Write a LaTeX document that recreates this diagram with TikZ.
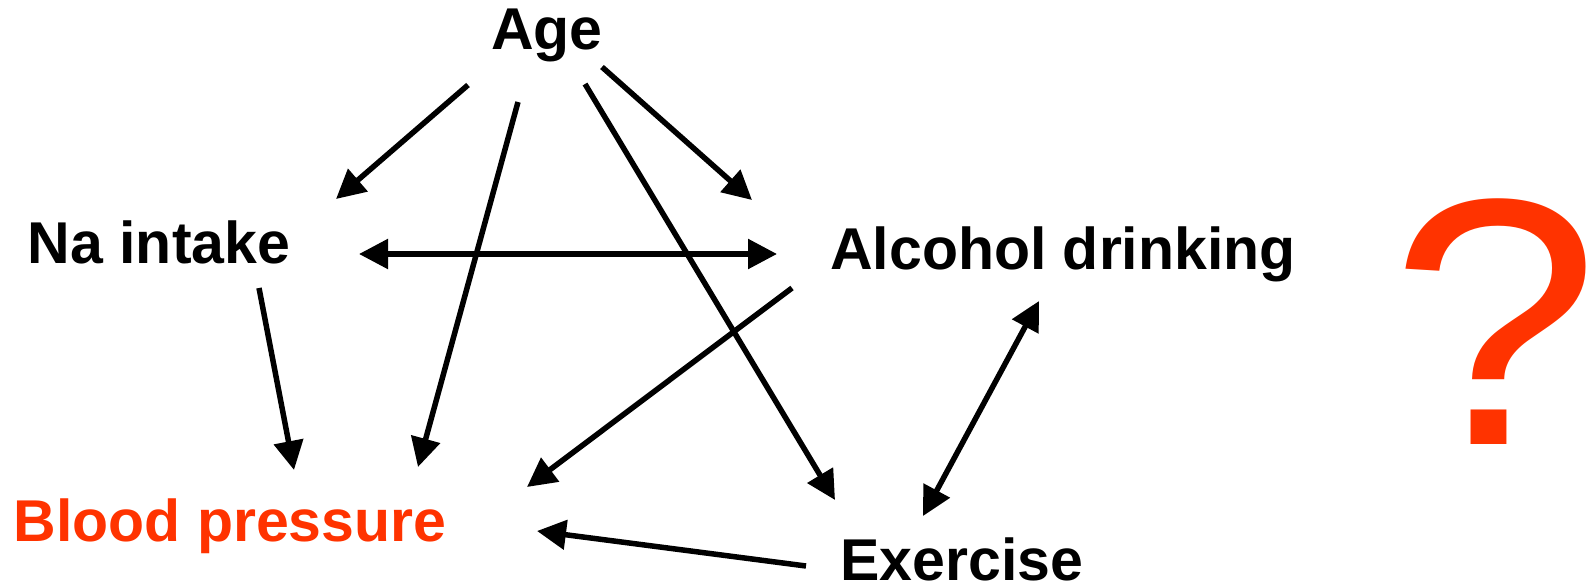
\documentclass[tikz,border=0pt]{standalone}
\usepackage{fontspec}
\setmainfont{Liberation Sans}
\usetikzlibrary{arrows.meta}
\definecolor{bpred}{RGB}{255,51,0}
\begin{document}
\begin{tikzpicture}[x=1pt,y=-1pt,
  label/.style={inner sep=0pt,anchor=base,font=\fontsize{59}{70}\selectfont\bfseries},
  link/.style={line width=5.5pt,-{Triangle[length=29pt,width=29pt]}},
  bilink/.style={line width=5.5pt,{Triangle[length=29pt,width=29pt]}-{Triangle[length=29pt,width=29pt]}}]
\useasboundingbox (0,0) rectangle (1595,588);

% variables
\node[label] (age) at (547,50) {Age};
\node[label] (na)  at (159,263) {Na intake};
\node[label] (alc) at (1063,269) {Alcohol drinking};
\node[label,text=bpred] (bp) at (230,541) {Blood pressure};
\node[label] (ex)  at (962,580) {Exercise};
\node[inner sep=0pt,anchor=base,text=bpred,font=\fontsize{352}{352}\selectfont] (q) at (1495,444) {\scalebox{1.07}[1]{?}};

% arrow end points
\coordinate (age-na)  at (468,85);   \coordinate (na-top)   at (336,199);
\coordinate (age-bp)  at (518,102);  \coordinate (bp-age)   at (418,467);
\coordinate (age-ex)  at (585,84);   \coordinate (ex-age)   at (835,500);
\coordinate (age-alc) at (602,67);   \coordinate (alc-age)  at (752,200);
\coordinate (na-right) at (359,254); \coordinate (alc-left) at (777,254);
\coordinate (na-bp)   at (259,288);  \coordinate (bp-na)    at (294,470);
\coordinate (alc-bp)  at (792,288);  \coordinate (bp-alc)   at (527,487);
\coordinate (alc-ex)  at (1039,301); \coordinate (ex-alc)   at (923,516);
\coordinate (ex-bp)   at (806,566);  \coordinate (bp-ex)    at (537,531);

% causal links
\draw[link] (age-na) -- (na-top);
\draw[link] (age-bp) -- (bp-age);
\draw[link] (age-ex) -- (ex-age);
\draw[link] (age-alc) -- (alc-age);
\draw[bilink] (na-right) -- (alc-left);
\draw[link] (na-bp) -- (bp-na);
\draw[link] (alc-bp) -- (bp-alc);
\draw[bilink] (alc-ex) -- (ex-alc);
\draw[link] (ex-bp) -- (bp-ex);
\end{tikzpicture}
\end{document}
